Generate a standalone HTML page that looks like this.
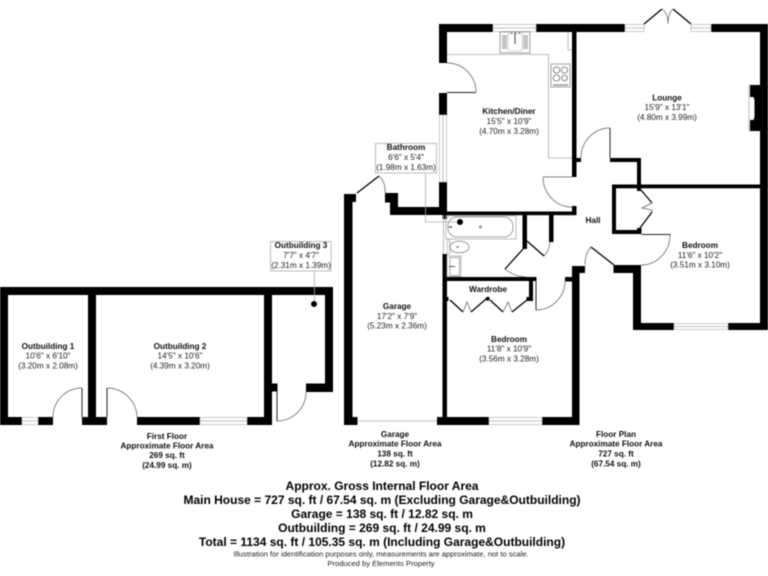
<!DOCTYPE html>
<html><head><meta charset="utf-8"><title>Floor plan</title>
<style>
html,body{margin:0;padding:0;background:#fff}
svg{display:block;filter:blur(.5px)}
text{font-family:"Liberation Sans",Arial,sans-serif;text-anchor:middle;fill:#222;font-size:8.2px}
.b{font-weight:bold;fill:#111}
.f{font-weight:bold;font-size:12px;fill:#000}
.s{font-size:7.6px}
.t{fill:none;stroke:#555;stroke-width:.7}
.g{fill:none;stroke:#aaa;stroke-width:.8}
.d{fill:none;stroke:#000;stroke-width:1.3}
.j{fill:none;stroke:#222;stroke-width:1}
.w{fill:#fff;stroke:#bbb;stroke-width:.8}
</style></head><body>
<svg width="768" height="576" viewBox="0 0 768 576" xmlns="http://www.w3.org/2000/svg">
<rect width="768" height="576" fill="#fff"/>
<g fill="#000">
<!-- Outbuildings -->
<rect x="0" y="287" width="333" height="8"/>
<rect x="0" y="287" width="8" height="138"/>
<rect x="0" y="417" width="22" height="8"/>
<rect x="38" y="417" width="15" height="8"/>
<rect x="82" y="417" width="25" height="8"/>
<rect x="137" y="417" width="63" height="8"/>
<rect x="247" y="417" width="25" height="8"/>
<rect x="88" y="287" width="8" height="138"/>
<rect x="264" y="287" width="8" height="138"/>
<rect x="325" y="287" width="8" height="105"/>
<rect x="306" y="383.500" width="27" height="8.500"/>
<rect x="272" y="383.500" width="5.500" height="8"/>
<circle cx="314" cy="304" r="3"/>
<!-- Main top -->
<rect x="439" y="24" width="54" height="8"/>
<rect x="536" y="24" width="89" height="8"/>
<rect x="711" y="24" width="57" height="8"/>
<rect x="439" y="24" width="8" height="39"/>
<rect x="439" y="93" width="8" height="22"/>
<rect x="439" y="182" width="8" height="33"/>
<rect x="760" y="24" width="8" height="306"/>
<rect x="572" y="24" width="4.500" height="153"/>
<rect x="576" y="158" width="5" height="4"/>
<rect x="610" y="158" width="31" height="4"/>
<rect x="637" y="158" width="4" height="32"/>
<rect x="612" y="184.500" width="150" height="3.800"/>
<rect x="612" y="184.500" width="4" height="49.500"/>
<rect x="612" y="230" width="29" height="4"/>
<rect x="637" y="188" width="4" height="3"/>
<rect x="637" y="228" width="4.500" height="6"/>
<rect x="633" y="265" width="8" height="65"/>
<rect x="613.500" y="265" width="27" height="8"/>
<rect x="633" y="323" width="41" height="7"/>
<rect x="728" y="323" width="40" height="7"/>
<!-- Kitchen bottom / bath top -->
<rect x="390" y="207" width="57" height="8"/>
<rect x="447" y="211.500" width="129" height="3.700"/>
<rect x="572" y="206" width="4.500" height="9"/>
<rect x="390" y="193" width="8" height="22"/>
<rect x="385" y="193" width="13" height="9.500"/>
<!-- Garage -->
<rect x="344" y="194" width="8.500" height="231"/>
<rect x="344" y="194" width="12" height="8"/>
<rect x="344" y="417" width="13.500" height="8"/>
<rect x="437" y="417" width="52" height="8"/>
<rect x="542" y="417" width="37" height="8"/>
<rect x="442.500" y="254" width="4.500" height="171"/>
<rect x="442.500" y="215" width="4.500" height="4"/>
<!-- Hall walls -->
<rect x="572" y="266" width="7.500" height="159"/>
<rect x="572" y="266" width="13" height="7"/>
<rect x="565" y="277" width="8" height="4.500"/>
<rect x="445" y="277" width="91.500" height="4"/>
<rect x="529" y="277" width="4" height="24"/>
<rect x="526.500" y="297" width="6.500" height="4"/>
<rect x="445" y="297" width="3.500" height="4"/>
<rect x="486" y="297" width="3.500" height="3.500"/>
<rect x="522.500" y="215" width="4.500" height="34"/>
<rect x="549" y="215" width="4.500" height="27"/>
<circle cx="460" cy="222" r="3"/>
<!-- Fireplace -->
<rect x="750" y="85" width="10" height="46"/>
<path d="M750 97h3.500l1 3v17l-1 3h-3.500z" fill="#fff"/>
</g>
<!-- Windows -->
<g>
<path class="w" d="M22 417.500h16v7H22zM200 417.500h47v7h-47zM493 24.500h43v7h-43zM625 24.500h19v7h-19zM691 24.500h20v7h-20zM489 417.500h53v7h-53zM674 323.500h54v6h-54zM439.500 115h7v67h-7z"/>
<path class="g" d="M22 421h16M200 421h47M493 28h43M625 28h19M691 28h20M489 421h53M674 326.500h54M443 115v67M357 421h80"/>
</g>
<!-- Doors -->
<g>
<path class="j" d="M82 388v29M107 388v29M277 391v30M447 92.500h29M610 128v30M641.500 234.500h29M536 281v29"/>
<path class="t" d="M543 177H572M82 388A29 29 0 0 0 53 417M107 388A30 30 0 0 1 137 417M277 421A29 29 0 0 0 306 392M447 63A29 29 0 0 1 476 92M581 158A29 30 0 0 1 610 128M670 235A29 30 0 0 1 641 265M536 310A29 29 0 0 0 565 281M379 176A16 18 0 0 1 385 193M591 247A12 20 0 0 0 585 265M543 177A29 30 0 0 0 572 207M505 269A33 30 0 0 0 527 277M544 256A22 22 0 0 0 550 242"/>
<path class="d" d="M357 193L379 176M614 265L591 247M524 248L505 269M527 241L544 256M644 24L662 9M691 24L673 9M641 190L652 203M640 228L652 212M450 300L463 312M471 312L486 299M490 300L503 312M512 312L527 300"/>
<path class="t" d="M662 9Q668 13 668 24M673 9Q668 13 668 24M652 203L642 208L652 210V212M463 312L467 302L471 312M503 312L508 302L512 312"/>
</g>
<!-- Kitchen fittings -->
<g>
<path class="g" d="M447 54.500H548.500V158H572M568 32V50H572"/>
<rect x="500" y="32" width="30" height="21" fill="#fff" stroke="#888" stroke-width=".8"/>
<rect x="508" y="34" width="14" height="17" fill="#fff" stroke="#bbb" stroke-width=".6"/>
<path d="M502 36h5M502 38h5M502 40h5M502 42h5M502 44h5M502 46h5M502 48h5M523 36h5M523 38h5M523 40h5M523 42h5M523 44h5M523 46h5M523 48h5" stroke="#666" stroke-width=".8" fill="none"/>
<path d="M511 33h1M515 33h1M519 33h1M515 33v11" stroke="#444" stroke-width="1" fill="none"/>
<rect x="551" y="64" width="19" height="23" fill="#fff" stroke="#888" stroke-width=".8"/>
<circle cx="556.500" cy="70" r="3.200" class="t"/><circle cx="564.500" cy="70" r="3.200" class="t"/>
<circle cx="556.500" cy="78" r="3.200" class="t"/><circle cx="564.500" cy="78" r="2.800" class="t"/>
<path d="M553 85h15" stroke="#999" stroke-width="1.500"/>
<!-- Bathroom fittings -->
<rect x="446" y="216" width="70" height="23" fill="none" stroke="#aaa" stroke-width=".8"/>
<rect x="448" y="217" width="65" height="20" rx="9" fill="none" stroke="#888" stroke-width=".8"/>
<circle cx="480.500" cy="227" r="1" class="t"/>
<path d="M449 227h3" stroke="#333" stroke-width="1.200"/>
<path d="M443.500 215v39" class="g"/>
<rect x="447" y="240" width="2.500" height="14" fill="#fff" stroke="#aaa" stroke-width=".7"/>
<rect x="449.500" y="241.500" width="1.500" height="11" fill="#fff" stroke="#aaa" stroke-width=".5"/>
<ellipse cx="459.500" cy="247" rx="9.500" ry="5.800" fill="#fff" stroke="#888" stroke-width=".8"/>
<circle cx="457.500" cy="247" r=".7" class="t"/>
<rect x="447" y="256" width="14" height="20.500" fill="#fff" stroke="#aaa" stroke-width=".8"/>
<rect x="450" y="257.500" width="9.500" height="18" fill="#fff" stroke="#888" stroke-width=".7"/>
<path d="M449 266.500h6" stroke="#555" stroke-width="1"/>
<path class="g" d="M750 85H749V131H750"/>
</g>
<!-- Label boxes & leaders -->
<rect x="375.500" y="143.500" width="61" height="29.500" fill="#fff" stroke="#aaa" stroke-width=".8"/>
<path class="g" stroke="#888" d="M425.500 173V222H457"/>
<rect x="270.500" y="241.500" width="60.500" height="29.500" fill="#fff" stroke="#aaa" stroke-width=".8"/>
<path class="g" d="M314.500 271V301"/>
<!-- Labels -->
<text class="b" x="48" y="349">Outbuilding 1</text><text x="48" y="358.500">10'6" x 6'10"</text><text x="48" y="368.500">(3.20m x 2.08m)</text>
<text class="b" x="180" y="349">Outbuilding 2</text><text x="180" y="358.500">14'5" x 10'6"</text><text x="180" y="368.500">(4.39m x 3.20m)</text>
<text class="b" x="301" y="248">Outbuilding 3</text><text x="301" y="258">7'7" x 4'7"</text><text x="301" y="268">(2.31m x 1.39m)</text>
<text class="b" x="167" y="439">First Floor</text><text class="b" x="167" y="448.500">Approximate Floor Area</text><text class="b" x="167" y="458">269 sq. ft</text><text class="b" x="167" y="468">(24.99 sq. m)</text>
<text class="b" x="509" y="114">Kitchen/Diner</text><text x="509" y="124">15'5" x 10'9"</text><text x="509" y="134">(4.70m x 3.28m)</text>
<text class="b" x="406" y="150">Bathroom</text><text x="406" y="160">6'6" x 5'4"</text><text x="406" y="170">(1.98m x 1.63m)</text>
<text class="b" x="667" y="100.500">Lounge</text><text x="667" y="110">15'9" x 13'1"</text><text x="667" y="120">(4.80m x 3.99m)</text>
<text class="b" x="593" y="223">Hall</text>
<text class="b" x="700" y="248">Bedroom</text><text x="700" y="258">11'6" x 10'2"</text><text x="700" y="267.500">(3.51m x 3.10m)</text>
<text class="b" x="488" y="292">Wardrobe</text>
<text class="b" x="509" y="342">Bedroom</text><text x="509" y="351.500">11'8" x 10'9"</text><text x="509" y="361.500">(3.56m x 3.28m)</text>
<text class="b" x="397" y="309">Garage</text><text x="397" y="319">17'2" x 7'9"</text><text x="397" y="328.500">(5.23m x 2.36m)</text>
<text class="b" x="395" y="437">Garage</text><text class="b" x="395" y="446.500">Approximate Floor Area</text><text class="b" x="395" y="456.500">138 sq. ft</text><text class="b" x="395" y="466.500">(12.82 sq. m)</text>
<text class="b" x="616" y="437">Floor Plan</text><text class="b" x="616" y="446.500">Approximate Floor Area</text><text class="b" x="616" y="456.500">727 sq. ft</text><text class="b" x="616" y="466.500">(67.54 sq. m)</text>
<text class="f" x="382" y="490">Approx. Gross Internal Floor Area</text>
<text class="f" x="382" y="504">Main House = 727 sq. ft / 67.54 sq. m (Excluding Garage&amp;Outbuilding)</text>
<text class="f" x="382" y="518">Garage = 138 sq. ft / 12.82 sq. m</text>
<text class="f" x="382" y="532">Outbuilding = 269 sq. ft / 24.99 sq. m</text>
<text class="f" x="382" y="546">Total = 1134 sq. ft / 105.35 sq. m (Including Garage&amp;Outbuilding)</text>
<text class="s" x="381" y="556.500">Illustration for identification purposes only, measurements are approximate, not to scale.</text>
<text class="s" x="381" y="566">Produced by Elements Property</text>
</svg>
</body></html>
